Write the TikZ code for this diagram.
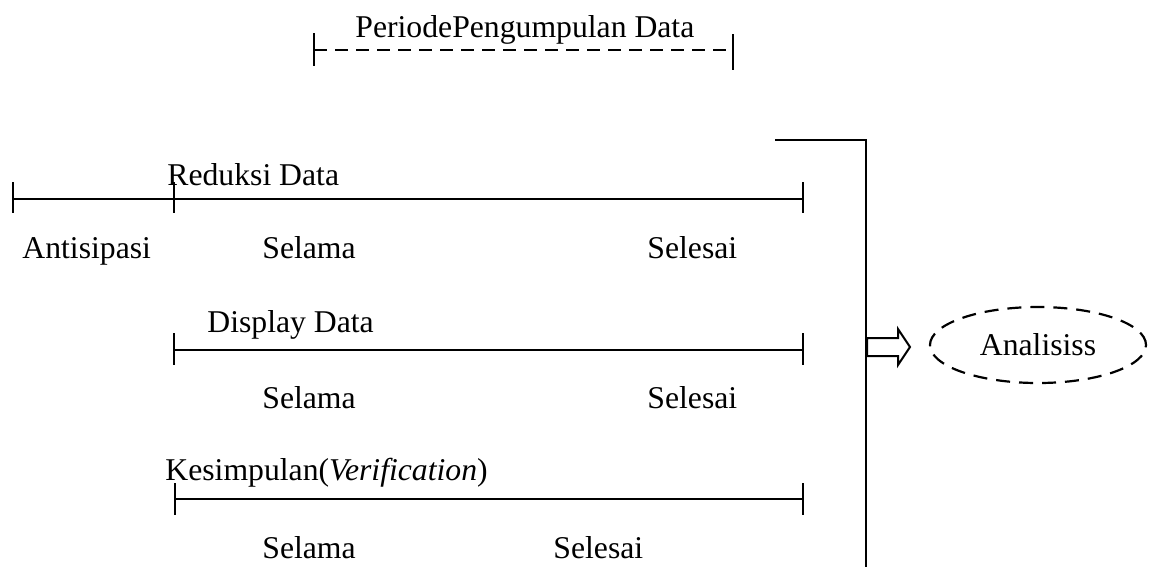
\documentclass[tikz,border=0pt]{standalone}
\usepackage{fontspec}
\setmainfont{Liberation Serif}
\usetikzlibrary{shapes.geometric}
\tikzset{
  lbl/.style={anchor=base west, inner sep=0pt, font=\fontsize{15.85}{19}\selectfont},
  tl/.style={line width=1pt, line cap=butt},
  dashline/.style={line width=1.1pt, dash pattern=on 6.5pt off 4pt},
  tick/.style={line width=0.8pt},
  ell/.style={ellipse, draw, line width=1.1pt, dash pattern=on 7pt off 4.5pt, minimum width=108pt, minimum height=38pt, inner sep=0pt, font=\fontsize{15.85}{19}\selectfont},
  blockarrow/.style={draw, line width=1pt, fill=white, line join=miter}
}
\begin{document}
\begin{tikzpicture}[x=0.5pt, y=-0.5pt]
\useasboundingbox (0,0) rectangle (1159,569);
% top dashed period line
\node[lbl] (periode) at (355,37) {PeriodePengumpulan Data};
\coordinate (pA) at (314,50);
\coordinate (pB) at (733,50);
\draw[dashline] (pA) -- (pB);
\draw[tick] (314,33) -- (314,66);
\draw[tick] (733,34) -- (733,70);
% row 1
\node[lbl] (reduksi) at (167,185) {Reduksi Data};
\coordinate (r1a) at (13,199);
\coordinate (r1m) at (174,199);
\coordinate (r1b) at (803,199);
\draw[tl] (r1a) -- (r1m) -- (r1b);
\foreach \c in {r1a,r1m,r1b} \draw[tick] ([yshift=8.5pt]\c) -- ([yshift=-7pt]\c);
\node[lbl] (antisipasi) at (22,258) {Antisipasi};
\node[lbl] (selama1) at (262,258) {Selama};
\node[lbl] (selesai1) at (647,258) {Selesai};
% row 2
\node[lbl] (display) at (207,332) {Display Data};
\coordinate (r2a) at (174,350);
\coordinate (r2b) at (803,350);
\draw[tl] (r2a) -- (r2b);
\foreach \c in {r2a,r2b} \draw[tick] ([yshift=8.5pt]\c) -- ([yshift=-7.5pt]\c);
\node[lbl] (selama2) at (262,408) {Selama};
\node[lbl] (selesai2) at (647,408) {Selesai};
% row 3
\node[lbl] (kesimpulan) at (165,480) {Kesimpulan(\textit{Verification})};
\coordinate (r3a) at (175,499);
\coordinate (r3b) at (803,499);
\draw[tl] (r3a) -- (r3b);
\foreach \c in {r3a,r3b} \draw[tick] ([yshift=8pt]\c) -- ([yshift=-8pt]\c);
\node[lbl] (selama3) at (262,558) {Selama};
\node[lbl] (selesai3) at (553,558) {Selesai};
% bracket
\coordinate (bA) at (775,140);
\coordinate (bB) at (866,140);
\coordinate (bC) at (866,567);
\draw[tl, line join=miter] (bA) -- (bB) -- (bC);
% ellipse
\node[ell] (analisis) at (1038,345) {Analisiss};
% block arrow
\coordinate (ar) at (867,347);
\draw[blockarrow] (ar) ++(0,-9) -- ++(31,0) -- ++(0,-9) -- (910,347) -- (898,365) -- ++(0,-9) -- ++(-31,0) -- cycle;
\end{tikzpicture}
\end{document}
